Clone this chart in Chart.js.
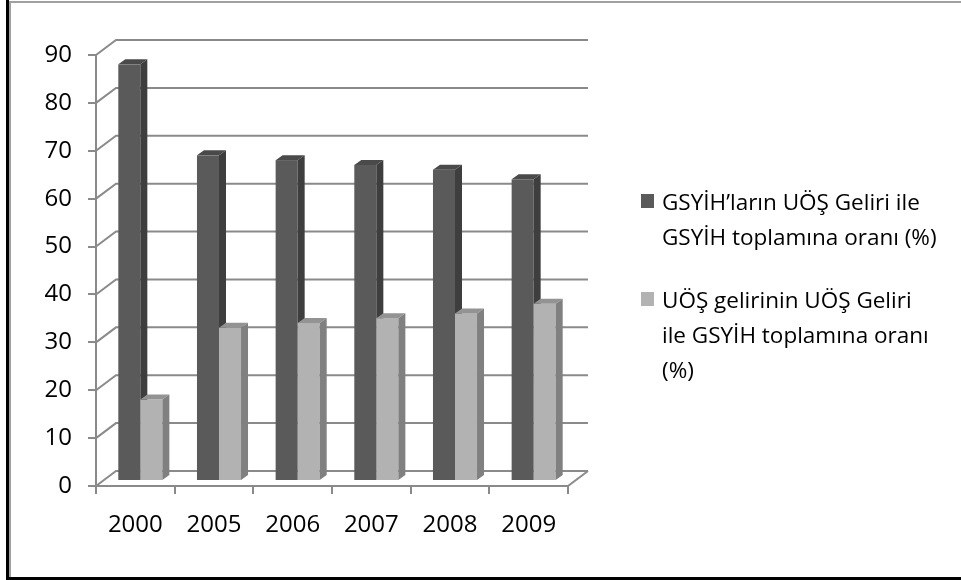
<!DOCTYPE html>
<html>
<head>
<meta charset="utf-8">
<script src="https://cdn.jsdelivr.net/npm/chart.js@4.4.0/dist/chart.umd.min.js"></script>
<style>
  body { margin: 0; background: #fff; }
  #wrap { position: relative; width: 961px; height: 580px; overflow: hidden; font-family: "Open Sans", sans-serif; }
  canvas { position: absolute; left: 0; top: 0; }
  .frame { position: absolute; }
  .legend-item { position: absolute; left: 641px; }
  .legend-item .box { position: absolute; left: 0; width: 13px; height: 14px; }
  .legend-item .txt { position: absolute; left: 21px; white-space: nowrap; font-size: 22.5px; line-height: 35px; color: #000; }
</style>
</head>
<body>
<div id="wrap">
  <canvas id="chart" width="961" height="580"></canvas>
  <div class="frame" style="left:6px;top:0;width:3px;height:580px;background:#000"></div>
  <div class="frame" style="left:9px;top:1px;width:2px;height:579px;background:#a0a0a0"></div>
  <div class="frame" style="left:9px;top:1px;width:952px;height:2px;background:#a0a0a0"></div>
  <div class="frame" style="left:6px;top:577px;width:955px;height:3px;background:#000"></div>
  <div id="legend"></div>
</div>
<script>
// categories and values
const years = ['2000', '2005', '2006', '2007', '2008', '2009'];
const gsyihShare = [87, 68, 67, 66, 65, 63];
const uosShare = [17, 32, 33, 34, 35, 37];
const yMin = 0, yMax = 90, yStep = 10;

const seriesLines = [
  ['GSYİH’ların UÖŞ Geliri ile', 'GSYİH toplamına oranı (%)'],
  ['UÖŞ gelirinin UÖŞ Geliri', 'ile GSYİH toplamına oranı', '(%)']
];
// front, top, side colour of each series
const faceColors = [
  ['#5a5a5a', '#4a4a4a', '#3e3e3e'],
  ['#b2b2b2', '#939393', '#808080']
];

const axisColor = '#8a8a8a';
const tickFont = { family: 'Open Sans', size: 24 };
const wallOffset = { dx: 20, dy: -15 };  // back wall vs front axis
const barOffset = { dx: 5, dy: -5 };     // bars stand halfway in
const barDepth = { dx: 7, dy: -5 };      // visible top / side of each bar

// legend as html
const legendTops = [184, 282];
const legend = document.getElementById('legend');
seriesLines.forEach((lines, i) => {
  const item = document.createElement('div');
  item.className = 'legend-item';
  item.style.top = legendTops[i] + 'px';
  item.innerHTML = '<div class="box" style="top:10px;background:' + faceColors[i][0] + '"></div>' +
    '<div class="txt">' + lines.join('<br>') + '</div>';
  legend.appendChild(item);
});

// draws the back wall grid and the bars with their 3d faces
const fake3d = {
  id: 'fake3d',
  beforeDatasetsDraw(chart) {
    const ctx = chart.ctx;
    const area = chart.chartArea;
    const y = chart.scales.y;

    ctx.save();
    ctx.strokeStyle = axisColor;
    ctx.lineWidth = 2;
    y.ticks.forEach(t => {
      const py = y.getPixelForValue(t.value);
      ctx.beginPath();
      ctx.moveTo(area.left, py);
      ctx.lineTo(area.left + wallOffset.dx, py + wallOffset.dy);
      ctx.lineTo(area.right + wallOffset.dx, py + wallOffset.dy);
      ctx.stroke();
    });
    // right edge of the floor
    const p0 = y.getPixelForValue(0);
    ctx.beginPath();
    ctx.moveTo(area.right, p0);
    ctx.lineTo(area.right + wallOffset.dx, p0 + wallOffset.dy);
    ctx.stroke();

    const metas = chart.data.datasets.map((d, i) => chart.getDatasetMeta(i));
    years.forEach((yr, i) => {
      metas.forEach((meta, di) => {
        const bar = meta.data[i];
        const left = bar.x - bar.width / 2 + barOffset.dx;
        const right = bar.x + bar.width / 2 + barOffset.dx;
        const top = bar.y + barOffset.dy;
        const bottom = bar.base + barOffset.dy;
        const cols = faceColors[di];

        ctx.fillStyle = cols[0];
        ctx.fillRect(left, top, right - left, bottom - top);

        ctx.fillStyle = cols[1];
        ctx.beginPath();
        ctx.moveTo(left, top);
        ctx.lineTo(left + barDepth.dx, top + barDepth.dy);
        ctx.lineTo(right + barDepth.dx, top + barDepth.dy);
        ctx.lineTo(right, top);
        ctx.closePath();
        ctx.fill();

        ctx.fillStyle = cols[2];
        ctx.beginPath();
        ctx.moveTo(right, top);
        ctx.lineTo(right + barDepth.dx, top + barDepth.dy);
        ctx.lineTo(right + barDepth.dx, bottom + barDepth.dy);
        ctx.lineTo(right, bottom);
        ctx.closePath();
        ctx.fill();
      });
    });
    ctx.restore();
    return false; // bars are done here
  }
};

new Chart(document.getElementById('chart'), {
  type: 'bar',
  data: {
    labels: years,
    datasets: [
      { label: seriesLines[0].join(' '), data: gsyihShare, backgroundColor: faceColors[0][0] },
      { label: seriesLines[1].join(' '), data: uosShare, backgroundColor: faceColors[1][0] }
    ]
  },
  options: {
    responsive: false,
    animation: false,
    devicePixelRatio: 1,
    categoryPercentage: 0.56,
    barPercentage: 1,
    layout: { padding: { left: 0, top: 55, right: 393, bottom: 0 } },
    plugins: { legend: { display: false }, tooltip: { enabled: false } },
    scales: {
      x: {
        grid: { drawOnChartArea: false, tickLength: 8, color: axisColor, lineWidth: 2, offset: true },
        border: { color: axisColor, width: 2 },
        ticks: { font: tickFont, color: '#000', padding: 17 },
        afterFit(s) { s.height = 94; }
      },
      y: {
        min: yMin,
        max: yMax,
        grid: { drawOnChartArea: false, tickLength: 8, color: axisColor, lineWidth: 2 },
        border: { color: axisColor, width: 2 },
        ticks: { stepSize: yStep, font: tickFont, color: '#000', padding: 16 },
        afterFit(s) { s.width = 96; }
      }
    }
  },
  plugins: [fake3d]
});
</script>
</body>
</html>
